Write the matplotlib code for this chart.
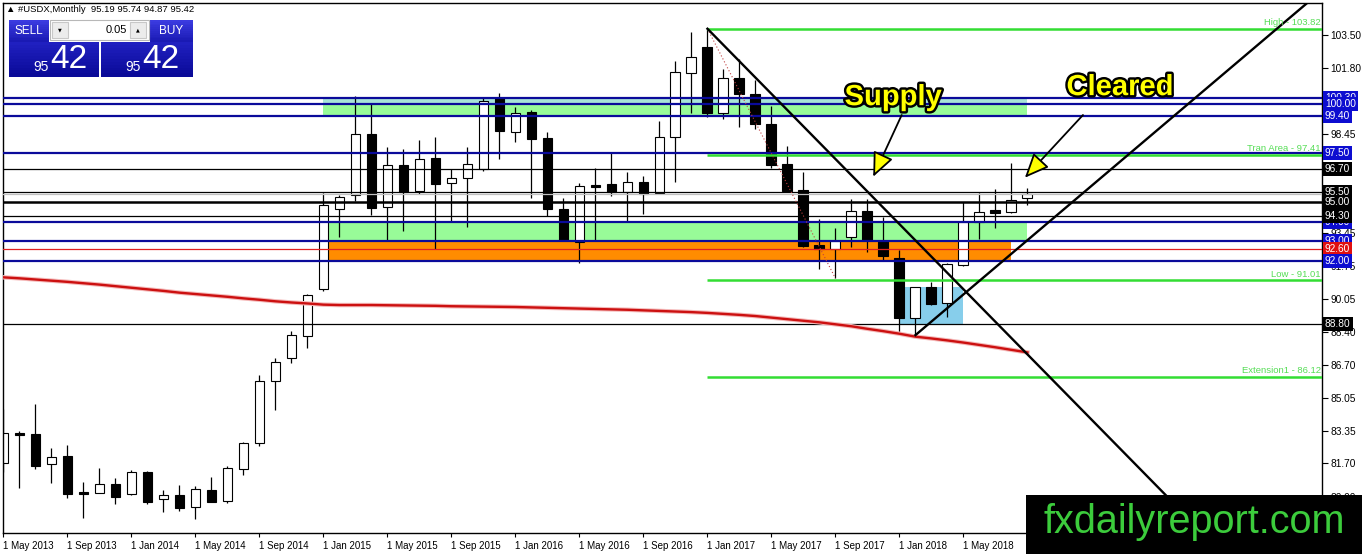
import matplotlib
matplotlib.use('Agg')
import matplotlib.pyplot as plt
import matplotlib.patches as patches
import matplotlib.patheffects as pe
import matplotlib.transforms as mtransforms
import matplotlib.colors as mc

W, H = 1362, 554

# monthly candles, May 2013 .. Sep 2018
opens = [81.72, 83.26, 83.19, 81.65, 82.07, 80.23, 80.21, 80.63, 80.13, 81.26,
         79.90, 80.07, 79.50, 80.34, 79.77, 81.40, 82.72, 85.88, 87.05, 88.17,
         90.56, 94.63, 95.34, 98.46, 94.73, 96.87, 95.55, 97.23, 95.95, 96.21,
         96.70, 100.28, 98.55, 99.57, 98.24, 94.65, 92.97, 95.85, 95.92, 95.53,
         96.02, 95.47, 98.29, 101.55, 102.87, 99.55, 101.31, 100.50, 98.97, 96.94,
         95.61, 92.80, 92.59, 93.20, 94.54, 93.00, 92.15, 89.08, 90.66, 89.88,
         91.80, 94.00, 94.58, 94.51, 95.19]
highs = [84.47, 83.36, 84.72, 82.48, 82.63, 80.77, 81.46, 80.97, 81.36, 81.33,
         80.34, 80.58, 80.55, 81.01, 81.57, 82.79, 86.20, 87.08, 88.42, 90.30,
         95.44, 95.36, 100.40, 99.99, 97.82, 97.68, 98.16, 98.29, 96.67, 97.78,
         100.28, 100.53, 99.85, 99.68, 98.55, 95.19, 95.95, 96.73, 97.48, 96.54,
         96.32, 99.12, 102.20, 103.64, 103.82, 101.75, 102.26, 101.21, 99.89, 97.85,
         96.51, 94.14, 93.66, 95.14, 95.14, 94.25, 92.56, 90.70, 90.95, 91.90,
         94.99, 95.44, 95.66, 96.97, 95.74]
lows = [81.26, 80.46, 81.40, 80.72, 79.95, 78.94, 80.18, 79.63, 80.10, 79.65,
        79.24, 79.29, 78.85, 79.72, 79.70, 81.12, 82.60, 84.42, 86.82, 87.59,
        90.50, 93.20, 95.05, 94.34, 93.07, 93.53, 95.41, 92.59, 94.03, 93.74,
        96.59, 97.17, 98.04, 95.22, 94.29, 93.02, 91.88, 93.07, 95.31, 94.03,
        94.39, 95.40, 96.00, 99.52, 99.34, 99.21, 98.83, 98.70, 96.72, 95.50,
        92.70, 91.58, 91.12, 92.73, 92.47, 92.05, 88.40, 88.23, 89.78, 89.16,
        91.75, 93.10, 93.69, 94.43, 94.87]
closes = [83.25, 83.13, 81.58, 82.01, 80.16, 80.16, 80.63, 80.00, 81.25, 79.75,
          80.07, 79.44, 80.38, 79.75, 81.46, 82.72, 85.88, 86.87, 88.22, 90.25,
          94.85, 95.24, 98.45, 94.71, 96.87, 95.51, 97.17, 95.93, 96.21, 96.92,
          100.16, 98.63, 99.52, 98.22, 94.63, 93.07, 95.80, 95.78, 95.49, 96.02,
          95.42, 98.29, 101.62, 102.36, 99.55, 101.30, 100.50, 98.97, 96.90, 95.56,
          92.76, 92.63, 93.00, 94.54, 93.07, 92.27, 89.08, 90.66, 89.81, 91.83,
          94.00, 94.48, 94.46, 95.10, 95.42]
ma_values = [91.17, 91.12, 91.06, 91.00, 90.94, 90.87, 90.80, 90.72, 90.64, 90.56,
             90.48, 90.39, 90.32, 90.25, 90.18, 90.10, 90.03, 89.95, 89.89, 89.84,
             89.78, 89.76, 89.76, 89.76, 89.75, 89.74, 89.73, 89.72, 89.70, 89.69,
             89.68, 89.67, 89.66, 89.64, 89.62, 89.60, 89.58, 89.56, 89.54, 89.52,
             89.49, 89.46, 89.43, 89.40, 89.36, 89.31, 89.26, 89.20, 89.12, 89.04,
             88.96, 88.88, 88.78, 88.68, 88.55, 88.43, 88.30, 88.15, 88.06, 87.96,
             87.85, 87.73, 87.61, 87.48, 87.35]

date_labels = ['1 May 2013', '1 Sep 2013', '1 Jan 2014', '1 May 2014', '1 Sep 2014',
               '1 Jan 2015', '1 May 2015', '1 Sep 2015', '1 Jan 2016', '1 May 2016',
               '1 Sep 2016', '1 Jan 2017', '1 May 2017', '1 Sep 2017', '1 Jan 2018',
               '1 May 2018', '1 Sep 2018']
price_ticks = [103.50, 101.80, 100.10, 98.45, 96.75, 95.10, 93.45, 91.75, 90.05,
               88.40, 86.70, 85.05, 83.35, 81.70, 80.00]
hidden_ticks = [100.10, 96.75, 95.10]   # covered by the level labels

blue_levels = [100.30, 100.00, 99.40, 97.50, 94.00, 93.00, 92.00]
black_levels = [96.70, 95.50, 94.30, 88.80]
thick_level = 95.00
red_level = 92.60
bid_price = 95.42

fib_start = 44
fib_levels = [103.82, 97.41, 91.01, 86.12]
fib_names = ['High', 'Tran Area', 'Low', 'Extension1']

# (x0, x1, y0, y1)
supply_zone = (20, 64, 99.40, 100.30)
demand_zone = (20, 64, 93.00, 94.00)
orange_zone = (20, 63, 92.00, 93.00)
blue_zone = (56, 60, 88.80, 90.66)

trend_down = [(44, 103.82), (72.64, 80.09)]
trend_up = [(57, 88.23), (76.66, 101.80)]
fib_line = [(44, 103.82), (52, 91.12)]

BLUE = '#0a0a9a'
BLUE_BOX = '#0d0dd0'
GREEN = '#33dd33'

fig = plt.figure(figsize=(W / 100, H / 100), dpi=100)
ax = fig.add_axes([3 / W, (H - 533) / H, 1319 / W, 530 / H])
XMAX = 82.41
ax.set_xlim(-0.03, XMAX)
ax.set_ylim(78.16, 105.13)

# zones
for (x0, x1, y0, y1), col in [(supply_zone, '#98fb98'), (demand_zone, '#98fb98'),
                              (orange_zone, '#ff8c00'), (blue_zone, '#87ceeb')]:
    ax.add_patch(patches.Rectangle((x0, y0), x1 - x0, y1 - y0, facecolor=col,
                                   edgecolor='none', zorder=1))
# upper band of supply box looks bluish
ax.add_patch(patches.Rectangle((supply_zone[0], 100.0), supply_zone[1] - supply_zone[0],
                               0.30, facecolor='#a8e4d8', edgecolor='none', zorder=1))

# candles
for i in range(len(opens)):
    o, h, l, c = opens[i], highs[i], lows[i], closes[i]
    ax.plot([i, i], [l, h], color='black', lw=0.9, zorder=2, solid_capstyle='butt')
    bull = c >= o
    ax.add_patch(patches.Rectangle((i - 0.31, min(o, c)), 0.62, max(abs(c - o), 0.05),
                                   facecolor='white' if bull else 'black',
                                   edgecolor='black', lw=0.8, zorder=2.1))

# horizontal levels
for y in blue_levels:
    ax.axhline(y, color=BLUE, lw=1.6, zorder=3)
for y in black_levels:
    ax.axhline(y, color='black', lw=0.9, zorder=3)
ax.axhline(thick_level, color='black', lw=1.8, zorder=3)
ax.axhline(red_level, color='#e02020', lw=0.9, zorder=3)
ax.axhline(bid_price, color='#c0c0c0', lw=0.9, zorder=3)

# fibo levels
for y, name in zip(fib_levels, fib_names):
    ax.hlines(y, fib_start, XMAX, color=GREEN, lw=1.8, zorder=3)
    ax.text(XMAX - 0.08, y + 0.1, '%s - %.2f' % (name, y), color='#55dd55',
            fontsize=6.8, ha='right', va='bottom', family='Liberation Sans', zorder=4)
ax.plot([p[0] for p in fib_line], [p[1] for p in fib_line], color='#c04040',
        lw=0.8, ls=(0, (1, 2)), zorder=3)

# moving average
ax.plot(range(len(ma_values)), ma_values, color='#f4b8b8', lw=3.2, zorder=3)
ax.plot(range(len(ma_values)), ma_values, color='#cc1010', lw=1.7, zorder=3.1)


def ray(p0, p1, x_end):
    k = (p1[1] - p0[1]) / (p1[0] - p0[0])
    return [p0[0], x_end], [p0[1], p0[1] + k * (x_end - p0[0])]


for tl in (trend_down, trend_up):
    xs, ys = ray(tl[0], tl[1], XMAX)
    ax.plot(xs, ys, color='black', lw=1.7, zorder=3.5)

# annotations
stroke = [pe.withStroke(linewidth=3.5, foreground='black')]
ax.text(55.6, 100.34, 'Supply', color='#ffff00', fontsize=21, fontweight='bold',
        family='Liberation Sans', ha='center', va='center', path_effects=stroke, zorder=6)
ax.text(69.78, 100.85, 'Cleared', color='#ffff00', fontsize=21, fontweight='bold',
        family='Liberation Sans', ha='center', va='center', path_effects=stroke, zorder=6)
arrow = dict(arrowstyle='-|>,head_length=1.5,head_width=0.65', fc='#ffff00',
             ec='black', lw=1.3, shrinkA=0, shrinkB=0)
ax.annotate('', xy=(54.36, 96.29), xytext=(56.14, 99.43), arrowprops=arrow, zorder=6)
ax.annotate('', xy=(63.84, 96.24), xytext=(67.47, 99.43), arrowprops=arrow, zorder=6)

# axes styling
for s in ax.spines.values():
    s.set_color('black')
    s.set_linewidth(1)
ax.yaxis.tick_right()
ax.set_yticks(price_ticks)
ax.set_yticklabels(['' if v in hidden_ticks else '%.2f' % v for v in price_ticks],
                   family='Liberation Sans')
ax.set_xticks(range(0, 65, 4))
ax.set_xticklabels(date_labels, ha='left', family='Liberation Sans')
ax.tick_params(axis='y', direction='out', length=4, width=0.8, labelsize=7.3, pad=2)
ax.tick_params(axis='x', direction='out', length=3, width=0.8, labelsize=7, pad=3)

# price labels on the right scale
btrans = mtransforms.blended_transform_factory(ax.transAxes, ax.transData)
label_boxes = [(100.30, BLUE_BOX), (100.00, BLUE_BOX), (99.40, BLUE_BOX), (97.50, BLUE_BOX),
               (96.70, 'black'), (95.50, 'black'), (95.00, 'black'), (94.00, BLUE_BOX),
               (94.30, 'black'), (93.00, BLUE_BOX), (92.60, '#e01010'), (92.00, BLUE_BOX),
               (88.80, 'black')]
for k, (v, col) in enumerate(label_boxes):
    ax.text(1.0022, v, '%.2f' % v, transform=btrans, color='white', fontsize=7.3,
            family='Liberation Sans', ha='left', va='center', clip_on=False,
            bbox=dict(boxstyle='square,pad=0.2', fc=col, ec='none'), zorder=10 + k)


# header and one-click panel (figure pixels)
def px_rect(x, y, w, h, fc, ec='none', z=5):
    fig.add_artist(patches.Rectangle((x / W, 1 - (y + h) / H), w / W, h / H,
                                     transform=fig.transFigure, facecolor=fc,
                                     edgecolor=ec, lw=0.8, zorder=z))


def grad_rect(x, y, w, h, top, bottom, n=12):
    t, b = mc.to_rgb(top), mc.to_rgb(bottom)
    for j in range(n):
        f = j / (n - 1)
        col = tuple(t[c] * (1 - f) + b[c] * f for c in range(3))
        px_rect(x, y + j * h / n, w, h / n + 0.6, col)


def px_text(x, y, s, **kw):
    fig.text(x / W, 1 - y / H, s, **kw)


px_text(6, 10, '▲ #USDX,Monthly  95.19 95.74 94.87 95.42', fontsize=6.8,
        family=['Liberation Sans', 'DejaVu Sans'], va='center', ha='left')
px_rect(5, 19, 189, 59, 'white')
grad_rect(9, 20, 40, 22, '#3b3be0', '#1a1ab4')
grad_rect(150, 20, 43, 22, '#3b3be0', '#1a1ab4')
grad_rect(9, 42, 90, 34, '#2020c0', '#0a0a98')
grad_rect(101, 42, 92, 34, '#2020c0', '#0a0a98')
px_rect(50, 20, 99, 20, 'white', ec='#b8b8b8')
px_rect(52, 22, 16, 16, '#ececec', ec='#c8c8c8')
px_rect(130, 22, 16, 16, '#ececec', ec='#c8c8c8')
px_text(29, 31, 'SELL', color='white', fontsize=8.5, family='Liberation Sans',
        ha='center', va='center', zorder=6)
px_text(171, 31, 'BUY', color='white', fontsize=8.5, family='Liberation Sans',
        ha='center', va='center', zorder=6)
px_text(60, 30, '▼', fontsize=3.5, ha='center', va='center', zorder=6)
px_text(138, 30, '▲', fontsize=3.5, ha='center', va='center', zorder=6)
px_text(127, 30, '0.05', fontsize=8, family='Liberation Sans', ha='right',
        va='center', zorder=6)
for x0 in (9, 101):
    px_text(x0 + 40, 67, '95', color='white', fontsize=10, family='Liberation Sans',
            ha='right', va='center', zorder=6)
    px_text(x0 + 41, 60, '42', color='white', fontsize=24, family='Liberation Sans',
            ha='left', va='center', zorder=6)

# watermark
px_rect(1026, 495, W - 1026, H - 495, 'black', z=8)
px_text(1194, 522, 'fxdailyreport.com', color='#3ccc3c', fontsize=28.5,
        family='Liberation Sans', ha='center', va='center', zorder=9)

fig.savefig('out.png', dpi=100)
